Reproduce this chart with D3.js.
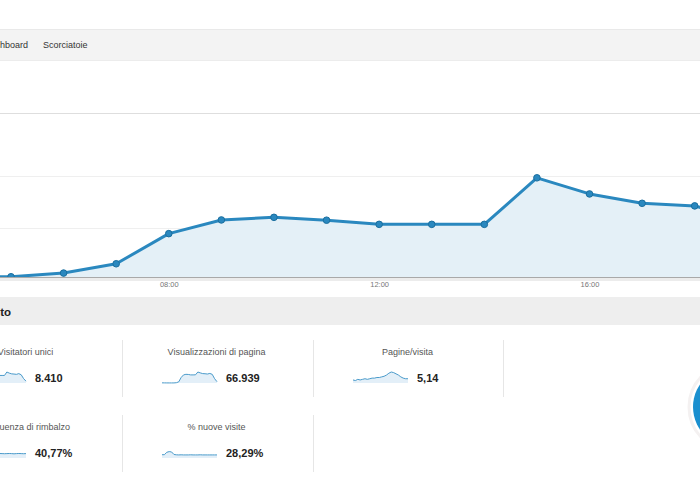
<!DOCTYPE html>
<html>
<head>
<meta charset="utf-8">
<script src="https://cdn.jsdelivr.net/npm/d3@7"></script>
<style>
  html, body { margin: 0; padding: 0; background: #fff; }
  svg { display: block; font-family: "Liberation Sans", Arial, sans-serif; }
</style>
</head>
<body>
<svg id="chart" width="700" height="500"></svg>
<script>
// ---------- DATA ----------
const navItems = ["Dashboard", "Scorciatoie"];
const sectionTitle = "Utilizzo del sito";

const hours  = [4, 5, 6, 7, 8, 9, 10, 11, 12, 13, 14, 15, 16, 17, 18, 19];
const visits = [1, 1, 16, 54, 177, 231, 241, 230, 214, 214, 214, 393, 331, 295, 285, 230];
const gridValues = [0, 200, 400, 600];
const hourTicks = [8, 12, 16];

const metricLabels = ["Visitatori unici", "Visualizzazioni di pagina", "Pagine/visita",
                      "Frequenza di rimbalzo", "% nuove visite"];
const metricValues = ["8.410", "66.939", "5,14", "40,77%", "28,29%"];

const sparkVisitors  = [3, 2, 2, 1, 1, 1, 8, 25, 85, 110, 115, 110, 103, 103, 103, 150, 135, 125, 122, 118, 128, 112, 60, 25];
const sparkPageviews = [10, 8, 6, 5, 5, 6, 20, 80, 380, 560, 600, 590, 560, 560, 565, 760, 700, 650, 640, 620, 660, 600, 300, 90];
const sparkPagesPer  = [4.5, 4.4, 4.6, 4.5, 4.6, 4.7, 4.6, 4.7, 4.8, 4.8, 4.9, 4.9, 5.0, 5.1, 5.3, 5.6, 5.8, 5.7, 5.5, 5.3, 5.0, 4.8, 4.7, 4.7];
const sparkBounce    = [42, 40, 41, 39, 40, 41, 39, 38, 40, 41, 40, 39, 41, 40, 39, 40, 41, 40, 38, 40, 41, 40, 39, 40];
const sparkNew       = [30, 30, 52, 58, 55, 32, 29, 28, 29, 28, 28, 28, 29, 28, 28, 28, 29, 28, 28, 28, 28, 28, 28, 28];
const sparkDomains   = [[0, 150], [0, 760], [4, 5.8], [0, 100], [0, 100]];

const pieLabels = ["Nuovi visitatori", "Visitatori di ritorno"];
const pieValues = [28.29, 71.71];

// ---------- DRAW ----------
const svg = d3.select("#chart");
const W = 700;

// top navigation bar
svg.append("rect").attr("x", 0).attr("y", 29).attr("width", W).attr("height", 32)
  .attr("fill", "#f3f3f3");
svg.append("line").attr("x1", 0).attr("x2", W).attr("y1", 29.5).attr("y2", 29.5)
  .attr("stroke", "#e9e9e9");
svg.append("line").attr("x1", 0).attr("x2", W).attr("y1", 60.5).attr("y2", 60.5)
  .attr("stroke", "#ececec");
svg.append("text").attr("x", 28).attr("y", 48).attr("text-anchor", "end")
  .attr("font-size", 9).attr("fill", "#333").text(navItems[0]);
svg.append("text").attr("x", 43).attr("y", 48)
  .attr("font-size", 9).attr("fill", "#333").text(navItems[1]);

// main chart
const x = d3.scaleLinear().domain([5, 18]).range([11, 694.7]);
const y = d3.scaleLinear().domain(gridValues).range([277, 228, 176, 113]);

const g = svg.append("g");
g.selectAll("line.grid").data(gridValues.slice(1)).join("line")
  .attr("class", "grid")
  .attr("x1", 0).attr("x2", W)
  .attr("y1", d => Math.round(y(d)) + 0.5).attr("y2", d => Math.round(y(d)) + 0.5)
  .attr("stroke", (d, i) => i === 2 ? "#dedede" : "#efefef");

const area = d3.area().x((d, i) => x(hours[i])).y0(y(0)).y1(d => y(d));
const line = d3.line().x((d, i) => x(hours[i])).y(d => y(d));

g.append("path").datum(visits).attr("d", area).attr("fill", "#e4f0f7");
g.append("path").datum(visits).attr("d", line)
  .attr("fill", "none").attr("stroke", "#2a88bf").attr("stroke-width", 3)
  .attr("stroke-linejoin", "round");
g.selectAll("circle.pt").data(visits).join("circle")
  .attr("class", "pt")
  .attr("cx", (d, i) => x(hours[i])).attr("cy", d => y(d)).attr("r", 3.3)
  .attr("fill", "#2a88bf").attr("stroke", "#1b6f9f").attr("stroke-width", 1);

// baseline with shadow
svg.append("rect").attr("x", 0).attr("y", 278).attr("width", W).attr("height", 3).attr("fill", "#ececec");
svg.append("line").attr("x1", 0).attr("x2", W).attr("y1", 277.5).attr("y2", 277.5)
  .attr("stroke", "#a9a9a9");

// x axis labels
const xAxis = d3.axisBottom(x).tickValues(hourTicks).tickSize(0).tickPadding(0)
  .tickFormat(h => d3.format("02d")(h) + ":00");
const ax = svg.append("g").attr("transform", "translate(0,282)").call(xAxis);
ax.select(".domain").remove();
ax.selectAll("text").attr("font-size", 7.5).attr("fill", "#777")
  .attr("font-family", "Liberation Sans, Arial, sans-serif").attr("dy", "0.71em");

// section bar
svg.append("rect").attr("x", 0).attr("y", 297).attr("width", W).attr("height", 28).attr("fill", "#eeeeee");
svg.append("text").attr("x", 11).attr("y", 316).attr("text-anchor", "end")
  .attr("font-size", 11.5).attr("font-weight", "bold").attr("fill", "#222").text(sectionTitle);

// metric cells
const colW = 191, col0 = -69;
const rowTop = [340, 415];
const sparkSeries = [sparkVisitors, sparkPageviews, sparkPagesPer, sparkBounce, sparkNew];

// separators
const seps = [[122, 0], [313, 0], [503, 0], [122, 1], [313, 1]];
svg.selectAll("line.sep").data(seps).join("line").attr("class", "sep")
  .attr("x1", d => d[0] + 0.5).attr("x2", d => d[0] + 0.5)
  .attr("y1", d => rowTop[d[1]]).attr("y2", d => rowTop[d[1]] + 57)
  .attr("stroke", "#e6e6e6");

metricLabels.forEach((lab, i) => {
  const row = i < 3 ? 0 : 1;
  const col = i < 3 ? i : i - 3;
  const left = col0 + col * colW;
  const top = rowTop[row];
  const cell = svg.append("g");
  cell.append("text").attr("x", left + colW / 2 - 1).attr("y", top + 15)
    .attr("text-anchor", "middle").attr("font-size", 9).attr("fill", "#555").text(lab);

  const sx = d3.scaleLinear().domain([0, sparkSeries[i].length - 1]).range([left + 40, left + 95]);
  const sy = d3.scaleLinear().domain(sparkDomains[i]).range([top + 43, top + 32]);
  const sArea = d3.area().x((d, k) => sx(k)).y0(top + 43).y1(d => sy(d));
  const sLine = d3.line().x((d, k) => sx(k)).y(d => sy(d));
  cell.append("path").datum(sparkSeries[i]).attr("d", sArea).attr("fill", "#e3eff8");
  cell.append("path").datum(sparkSeries[i]).attr("d", sLine)
    .attr("fill", "none").attr("stroke", "#4a9bcb").attr("stroke-width", 1);

  cell.append("text").attr("x", left + 104).attr("y", top + 42)
    .attr("font-size", 11).attr("font-weight", "bold").attr("fill", "#222").text(metricValues[i]);
});

// pie (partially visible at right edge)
const pie = d3.pie().sort(null).startAngle(219 * Math.PI / 180).endAngle(219 * Math.PI / 180 + 2 * Math.PI);
const arc = d3.arc().innerRadius(0).outerRadius(40);
const pg = svg.append("g").attr("transform", "translate(733,407)");
pg.append("circle").attr("r", 44).attr("fill", "none").attr("stroke", "#f4f1f1").attr("stroke-width", 3);
pg.selectAll("path").data(pie(pieValues)).join("path")
  .attr("d", arc).attr("fill", (d, i) => i === 0 ? "#1a8fcf" : "#ed561b");
</script>
</body>
</html>
